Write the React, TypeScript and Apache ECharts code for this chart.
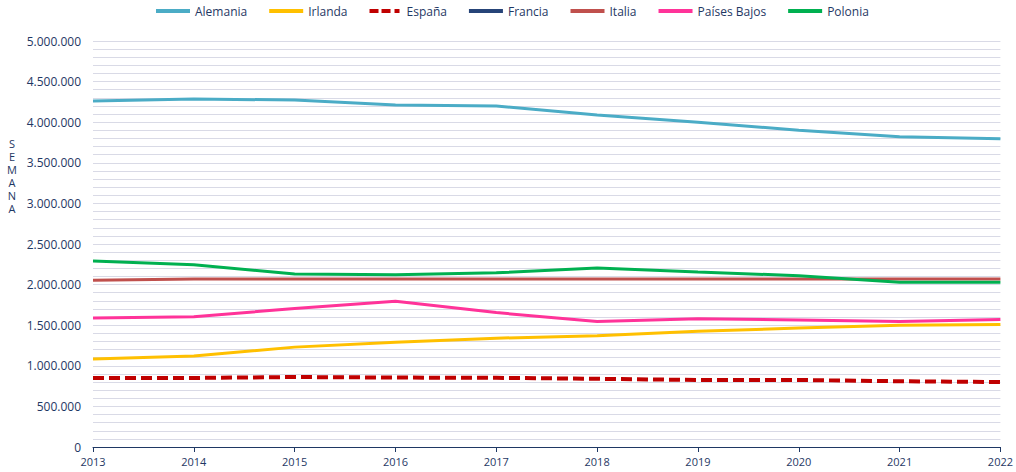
import React, { useEffect, useRef } from "react";
import * as echarts from "echarts";

const years = ["2013", "2014", "2015", "2016", "2017", "2018", "2019", "2020", "2021", "2022"];
const alemania = [4261000, 4286000, 4273000, 4212000, 4200000, 4090000, 4000000, 3900000, 3820000, 3795000];
const irlanda = [1084000, 1120000, 1230000, 1290000, 1340000, 1370000, 1425000, 1465000, 1500000, 1510000];
const espana = [850000, 850000, 862000, 855000, 852000, 840000, 825000, 825000, 810000, 800000];
const francia: (number | null)[] = [null, null, null, null, null, null, null, null, null, null];
const italia = [2055000, 2068000, 2068000, 2068000, 2068000, 2068000, 2068000, 2068000, 2068000, 2068000];
const paisesBajos = [1590000, 1605000, 1705000, 1795000, 1655000, 1545000, 1580000, 1565000, 1545000, 1570000];
const polonia = [2290000, 2245000, 2130000, 2120000, 2145000, 2205000, 2155000, 2110000, 2030000, 2030000];

const seriesNames = ["Alemania", "Irlanda", "España", "Francia", "Italia", "Países Bajos", "Polonia"];
const seriesData = [alemania, irlanda, espana, francia, italia, paisesBajos, polonia];
const seriesColors = ["#4BACC6", "#FFC000", "#C00000", "#264478", "#C0504D", "#FF3399", "#00B050"];
const axisNameLetters = ["S", "E", "M", "A", "N", "A"];

const fmt = (v: number) => (v === 0 ? "0" : String(v).replace(/\B(?=(\d{3})+(?!\d))/g, "."));

const dashIcon = "path://M0,0h9v4h-9z M12,0h9v4h-9z M25,0h5v4h-5z";

export default function App() {
  const ref = useRef<HTMLDivElement>(null);
  useEffect(() => {
    if (!ref.current) return;
    document.body.style.margin = "0";
    document.body.style.overflow = "hidden";
    const chart = echarts.init(ref.current, null, { renderer: "svg", width: 1016, height: 472 });
    const textColor = "#1F3864";
    chart.setOption({
      animation: false,
      textStyle: { fontFamily: "Open Sans" },
      legend: {
        top: 5,
        left: 156,
        padding: 0,
        itemWidth: 34,
        itemHeight: 4,
        itemGap: 22,
        textStyle: { color: textColor, fontSize: 12, fontFamily: "Open Sans" },
        data: seriesNames.map((n) => ({ name: n, icon: n === "España" ? dashIcon : "rect" })),
      },
      graphic: axisNameLetters.map((ch, i) => ({
        type: "text",
        x: 12,
        y: 138 + i * 13,
        style: {
          text: ch,
          fill: textColor,
          font: "11px Open Sans",
          align: "center",
          verticalAlign: "top",
        },
      })),
      grid: { left: 93, right: 11, top: 41, bottom: 25, containLabel: false },
      xAxis: {
        type: "category",
        data: years,
        boundaryGap: false,
        axisLine: { lineStyle: { color: textColor, width: 1 } },
        axisTick: { show: true, alignWithLabel: true, lineStyle: { color: textColor }, length: 5 },
        axisLabel: { color: textColor, fontSize: 11, margin: 9 },
        splitLine: { show: false },
      },
      yAxis: {
        type: "value",
        min: 0,
        max: 5000000,
        interval: 100000,
        axisLine: { show: false },
        axisTick: { show: false },
        axisLabel: {
          color: textColor,
          fontSize: 12,
          margin: 12,
          formatter: (v: number) => (v % 500000 === 0 ? fmt(v) : ""),
        },
        splitLine: { show: true, lineStyle: { color: "#D9DAE6", width: 1 } },
      },
      series: seriesNames.map((name, i) => ({
        name,
        type: "line",
        data: seriesData[i],
        symbol: "none",
        color: seriesColors[i],
        lineStyle:
          name === "España"
            ? { color: seriesColors[i], width: 4, type: [11, 5] }
            : { color: seriesColors[i], width: 3 },
        z: name === "Francia" ? 1 : 2,
      })),
    });
    return () => chart.dispose();
  }, []);
  return <div ref={ref} style={{ width: 1016, height: 472, overflow: "hidden" }} />;
}
